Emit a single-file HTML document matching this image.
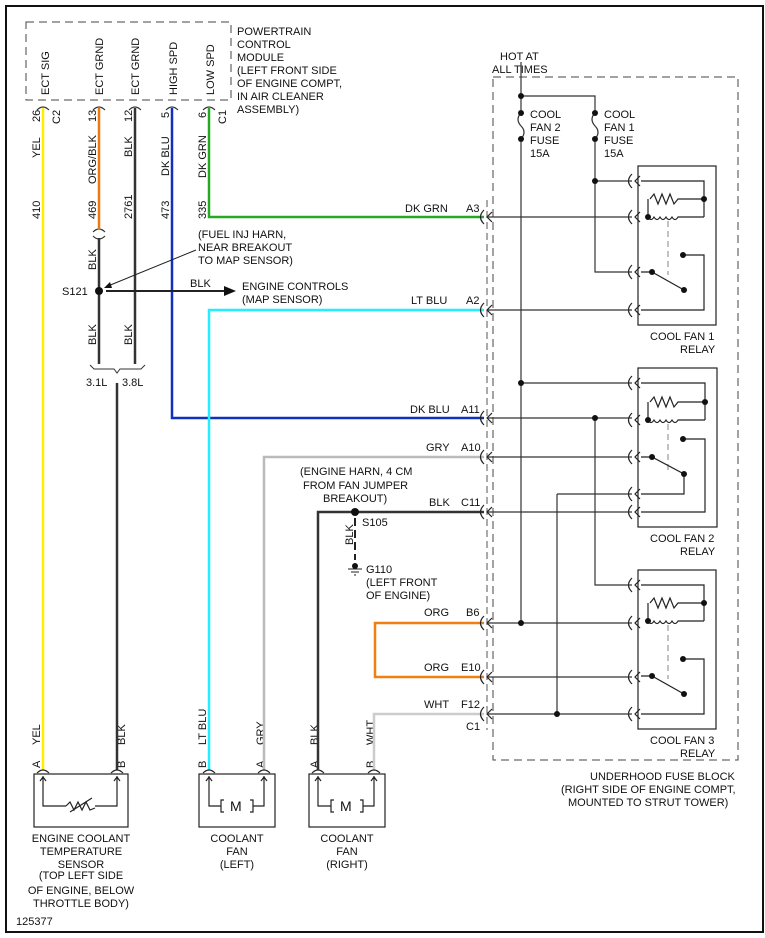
<!DOCTYPE html>
<html><head><meta charset="utf-8"><style>
body{margin:0;background:#fff}
svg{display:block}
text{font-family:"Liberation Sans",sans-serif;font-size:11px;fill:#111}
</style></head><body>
<svg width="765" height="938" viewBox="0 0 765 938" xmlns="http://www.w3.org/2000/svg">
<defs>
<g id="r1" fill="none" stroke="#222" stroke-width="1.2">
  <rect x="638" y="166" width="78" height="159"/>
  <path d="M641 181H704V217M650 199l4-5 4 10 4-10 4 10 4-10 4 10 4-5H704M648 217V199M648 217q3 5 6 0q3 5 6 0q3 5 6 0q3 5 6 0q3 5 6 0H704"/>
  <path d="M668 221V275" stroke="#999" stroke-dasharray="6 4"/>
  <path d="M641 272H652L684 290M683 255H704V310H641"/>
  <g fill="#111" stroke="none"><circle cx="704" cy="199" r="3"/><circle cx="648" cy="217" r="3"/><circle cx="652" cy="272" r="3"/><circle cx="684" cy="290" r="3"/><circle cx="683" cy="255" r="3"/></g>
</g>
<g id="cn" fill="none" stroke="#222" stroke-width="1.2"><path d="M4 -7Q-3 0 4 7M12 -5L7 0L12 5"/></g>
</defs>
<rect x="6" y="6" width="757" height="926" fill="none" stroke="#111" stroke-width="2"/>
<rect x="26" y="22" width="205" height="78" fill="none" stroke="#444" stroke-dasharray="8 5"/>
<g transform="rotate(-90)">
<text x="-95" y="49">ECT SIG</text>
<text x="-95" y="103">ECT GRND</text>
<text x="-95" y="139">ECT GRND</text>
<text x="-95" y="177">HIGH SPD</text>
<text x="-95" y="214">LOW SPD</text>
<text x="-122" y="40">26</text><text x="-124" y="60">C2</text>
<text x="-122" y="96">13</text><text x="-122" y="132">12</text>
<text x="-118" y="169">5</text><text x="-118" y="206">6</text><text x="-124" y="226">C1</text>
<text x="-158" y="40">YEL</text><text x="-184" y="96">ORG/BLK</text><text x="-157" y="132">BLK</text>
<text x="-176" y="169">DK BLU</text><text x="-178" y="206">DK GRN</text>
<text x="-219" y="40">410</text><text x="-219" y="96">469</text><text x="-219" y="132">2761</text>
<text x="-219" y="169">473</text><text x="-219" y="206">335</text>
<text x="-270" y="96">BLK</text>
<text x="-345" y="96">BLK</text><text x="-345" y="132">BLK</text>
<text x="-545" y="353">BLK</text>
<text x="-745" y="40">YEL</text><text x="-745" y="125">BLK</text>
<text x="-745" y="206">LT BLU</text><text x="-745" y="264">GRY</text>
<text x="-745" y="318">BLK</text><text x="-745" y="374">WHT</text>
<text x="-768" y="40">A</text><text x="-768" y="125">B</text>
<text x="-768" y="206">B</text><text x="-768" y="264">A</text>
<text x="-768" y="318">A</text><text x="-768" y="374">B</text>
</g>
<g>
<text x="237" y="35">POWERTRAIN</text><text x="237" y="48">CONTROL</text><text x="237" y="61">MODULE</text>
<text x="237" y="74">(LEFT FRONT SIDE</text><text x="237" y="87">OF ENGINE COMPT,</text><text x="237" y="100">IN AIR CLEANER</text><text x="237" y="113">ASSEMBLY)</text>
</g>
<g fill="none" stroke="#333" stroke-width="1.2">
<path d="M37 110q6-6 12 0M93 110q6-6 12 0M129 110q6-6 12 0M166 110q6-6 12 0M203 110q6-6 12 0"/>
<path d="M93 232q6-6 12 0M93 236q6 6 12 0"/>
</g>
<g fill="none" stroke-width="2.5">
<path d="M43 108V770" stroke="#ffee00"/>
<path d="M99 108V230" stroke="#e87a10"/>
<path d="M99 238V364M135 108V364M117 383V770" stroke="#333"/>
<path d="M172 108V418H484" stroke="#1030c0"/>
<path d="M209 108V217H484" stroke="#22aa22"/>
<path d="M484 310H209V770" stroke="#22eeff"/>
<path d="M484 457H264V770" stroke="#bbb"/>
<path d="M484 512H318V770" stroke="#333"/>
<path d="M484 623H375V677H484" stroke="#f08010"/>
<path d="M484 714H374V770" stroke="#ccc"/>
</g>
<path d="M90 365l4 4H114l3 4 3-4H141l4-4" fill="none" stroke="#333"/>
<text x="86" y="386">3.1L</text><text x="122" y="386">3.8L</text>
<circle cx="99" cy="291" r="4" fill="#111"/>
<path d="M106 291H224" stroke="#222" stroke-width="2"/><path d="M224 286L236 291L224 296Z" fill="#111"/>
<path d="M196 250L108 286" stroke="#222"/><path d="M104 288l6-6 2 6z" fill="#111"/>
<text x="62" y="295">S121</text><text x="190" y="287">BLK</text>
<text x="242" y="290">ENGINE CONTROLS</text><text x="242" y="303">(MAP SENSOR)</text>
<text x="198" y="238">(FUEL INJ HARN,</text><text x="198" y="251">NEAR BREAKOUT</text><text x="198" y="264">TO MAP SENSOR)</text>
<circle cx="355" cy="512" r="4" fill="#111"/>
<path d="M355 518V560" stroke="#222" stroke-width="2" stroke-dasharray="8 4"/>
<circle cx="355" cy="566" r="3" fill="#111"/><path d="M348 569h14M351 572h8M354 575h2" stroke="#222"/>
<text x="362" y="526">S105</text>
<text x="366" y="573">G110</text><text x="366" y="586">(LEFT FRONT</text><text x="366" y="599">OF ENGINE)</text>
<text x="300" y="475">(ENGINE HARN, 4 CM</text><text x="303" y="489">FROM FAN JUMPER</text><text x="323" y="502">BREAKOUT)</text>
<text x="405" y="212">DK GRN</text><text x="466" y="212">A3</text>
<text x="411" y="304">LT BLU</text><text x="466" y="304">A2</text>
<text x="410" y="413">DK BLU</text><text x="461" y="413">A11</text>
<text x="426" y="451">GRY</text><text x="461" y="451">A10</text>
<text x="429" y="506">BLK</text><text x="461" y="506">C11</text>
<text x="424" y="616">ORG</text><text x="466" y="616">B6</text>
<text x="424" y="671">ORG</text><text x="461" y="671">E10</text>
<text x="424" y="708">WHT</text><text x="461" y="708">F12</text>
<text x="466" y="730">C1</text>
<path d="M487 200V730" stroke="#555" stroke-dasharray="7 4"/>
<path d="M493 77H738V760H493Z" fill="none" stroke="#444" stroke-dasharray="8 5"/>
<text x="500" y="60">HOT AT</text><text x="492" y="73">ALL TIMES</text>
<g>
<use href="#cn" x="480" y="217"/><use href="#cn" x="480" y="310"/><use href="#cn" x="480" y="418"/>
<use href="#cn" x="480" y="457"/><use href="#cn" x="480" y="512"/><use href="#cn" x="480" y="623"/>
<use href="#cn" x="480" y="677"/><use href="#cn" x="480" y="714"/>
<use href="#cn" x="628" y="181"/><use href="#cn" x="628" y="217"/><use href="#cn" x="628" y="272"/><use href="#cn" x="628" y="310"/>
<use href="#cn" x="628" y="383"/><use href="#cn" x="628" y="420"/><use href="#cn" x="628" y="457"/><use href="#cn" x="628" y="494"/><use href="#cn" x="628" y="512"/>
<use href="#cn" x="628" y="585"/><use href="#cn" x="628" y="623"/><use href="#cn" x="628" y="677"/><use href="#cn" x="628" y="714"/>
</g>
<g fill="none" stroke="#333" stroke-width="1.2">
<path d="M521 62V110M521 142V623M521 96H595V110M595 142V272H632M595 181H632"/>
<path d="M521 113q-6 6 0 13q6 6 0 13M595 113q-6 6 0 13q6 6 0 13"/>
<path d="M488 217H632M488 310H632M488 418H632M488 457H632M488 512H632M488 623H632M488 677H632M488 714H632M521 383H632"/>
<path d="M595 418V585H632M557 494H632M557 494V714"/>
</g>
<g fill="#111">
<circle cx="521" cy="96" r="3"/><circle cx="521" cy="113" r="3"/><circle cx="521" cy="139" r="3"/>
<circle cx="595" cy="113" r="3"/><circle cx="595" cy="139" r="3"/><circle cx="595" cy="181" r="3"/>
<circle cx="521" cy="383" r="3"/><circle cx="595" cy="418" r="3"/><circle cx="521" cy="623" r="3"/><circle cx="557" cy="714" r="3"/>
</g>
<text x="530" y="118">COOL</text><text x="530" y="131">FAN 2</text><text x="530" y="144">FUSE</text><text x="530" y="157">15A</text>
<text x="604" y="118">COOL</text><text x="604" y="131">FAN 1</text><text x="604" y="144">FUSE</text><text x="604" y="157">15A</text>
<use href="#r1"/>
<use href="#r1" y="404"/>
<g fill="none" stroke="#222" stroke-width="1.2">
  <rect x="638" y="368" width="79" height="159"/>
  <path d="M641 383H705V420M650 402l4-5 4 10 4-10 4 10 4-10 4 10 4-5H705M648 420V402M648 420q3 5 6 0q3 5 6 0q3 5 6 0q3 5 6 0q3 5 6 0H705"/>
  <path d="M668 424V470" stroke="#999" stroke-dasharray="6 4"/>
  <path d="M641 457H652L684 474V494H641M683 439H705V512H641"/>
  <g fill="#111" stroke="none"><circle cx="705" cy="402" r="3"/><circle cx="648" cy="420" r="3"/><circle cx="652" cy="457" r="3"/><circle cx="684" cy="474" r="3"/><circle cx="683" cy="439" r="3"/></g>
</g>
<text x="650" y="340">COOL FAN 1</text><text x="680" y="353">RELAY</text>
<text x="650" y="542">COOL FAN 2</text><text x="680" y="555">RELAY</text>
<text x="650" y="744">COOL FAN 3</text><text x="680" y="757">RELAY</text>
<text x="590" y="780">UNDERHOOD FUSE BLOCK</text>
<text x="561" y="793">(RIGHT SIDE OF ENGINE COMPT,</text>
<text x="568" y="806">MOUNTED TO STRUT TOWER)</text>
<g fill="none" stroke="#222" stroke-width="1.2">
<path d="M37 773q6-6 12 0M111 773q6-6 12 0M203 773q6-6 12 0M258 773q6-6 12 0M312 773q6-6 12 0M368 773q6-6 12 0"/>
<rect x="34" y="774" width="94" height="53"/>
<path d="M43 776V806H66M95 806H117V776M40 781l3-4 3 4M114 781l3-4 3 4"/>
<path d="M66 806l4-4 4 8 4-8 4 8 4-8 4 8 5-2M70 812L92 798"/>
<rect x="199" y="774" width="76" height="53"/>
<path d="M209 776V806H221M253 806H264V776M206 781l3-4 3 4M261 781l3-4 3 4M224 800h-3v12h3M250 800h3v12h-3"/>
<rect x="309" y="774" width="76" height="53"/>
<path d="M318 776V806H331M363 806H374V776M315 781l3-4 3 4M371 781l3-4 3 4M334 800h-3v12h3M360 800h3v12h-3"/>
</g>
<text x="230" y="811" style="font-size:14px">M</text><text x="340" y="811" style="font-size:14px">M</text>
<g text-anchor="middle">
<text x="81" y="842">ENGINE COOLANT</text><text x="81" y="855">TEMPERATURE</text><text x="81" y="868">SENSOR</text>
<text x="81" y="879">(TOP LEFT SIDE</text><text x="81" y="894">OF ENGINE, BELOW</text><text x="81" y="907">THROTTLE BODY)</text>
<text x="237" y="842">COOLANT</text><text x="237" y="855">FAN</text><text x="237" y="868">(LEFT)</text>
<text x="347" y="842">COOLANT</text><text x="347" y="855">FAN</text><text x="347" y="868">(RIGHT)</text>
</g>
<text x="16" y="925">125377</text>
</svg>
</body></html>
